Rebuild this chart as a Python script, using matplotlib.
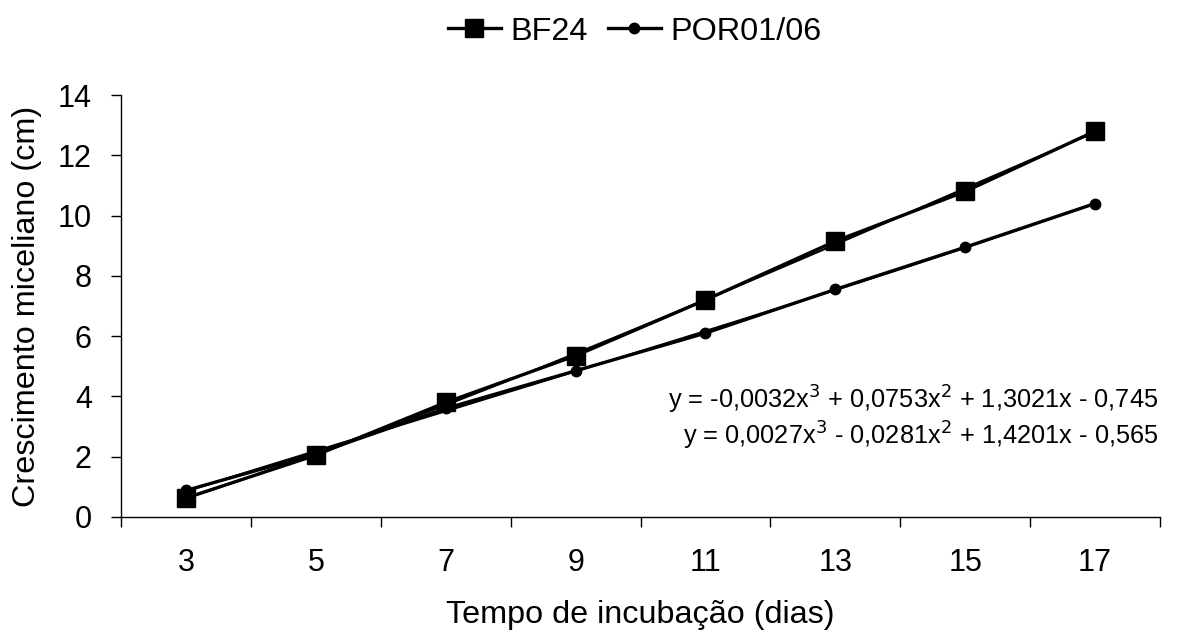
import numpy as np
import matplotlib.pyplot as plt

plt.rcParams['font.family'] = ['Liberation Sans', 'DejaVu Sans']

dias = ['3', '5', '7', '9', '11', '13', '15', '17']
bf24 = [0.63, 2.05, 3.8, 5.35, 7.2, 9.15, 10.8, 12.8]
por0106 = [0.88, 2.1, 3.6, 4.85, 6.1, 7.55, 8.95, 10.4]
eq_bf24 = 'y = -0,0032x$^3$ + 0,0753x$^2$ + 1,3021x - 0,745'
eq_por = 'y = 0,0027x$^3$ - 0,0281x$^2$ + 1,4201x - 0,565'

fig = plt.figure(figsize=(11.82, 6.3), dpi=100)
ax = fig.add_axes([0.1024, 0.1794, 0.879, 0.6698])

x = np.arange(1, len(dias) + 1)
xs = np.linspace(1, len(dias), 200)

# data series
ax.plot(x, bf24, color='black', lw=2.4, marker='s', ms=13, label='BF24')
ax.plot(x, por0106, color='black', lw=2.4, marker='o', ms=7.5, label='POR01/06')

# polynomial trend lines (3rd order, like Excel)
for serie in (bf24, por0106):
    c = np.polyfit(x, serie, 3)
    ax.plot(xs, np.polyval(c, xs), color='black', lw=1.6)

ax.text(0.998, 0.258, eq_bf24, transform=ax.transAxes, ha='right', va='baseline', fontsize=18.3)
ax.text(0.998, 0.171, eq_por, transform=ax.transAxes, ha='right', va='baseline', fontsize=18.3)

ax.set_xlim(0.5, len(dias) + 0.5)
ax.set_ylim(0, 14)
ax.set_yticks(range(0, 15, 2))
ax.set_xticks(x)
ax.set_xticklabels(dias)
ax.set_xticks(np.arange(0.5, len(dias) + 1, 1), minor=True)
ax.tick_params(axis='x', which='major', length=0, pad=22, labelsize=22)
ax.tick_params(axis='x', which='minor', length=7, width=1)
ax.tick_params(axis='y', length=7, width=1, labelsize=22, pad=14)

for s in ('top', 'right'):
    ax.spines[s].set_visible(False)
for s in ('left', 'bottom'):
    ax.spines[s].set_linewidth(1)

ax.set_xlabel('Tempo de incubação (dias)', fontsize=23.3, labelpad=16)
ax.set_ylabel('Crescimento miceliano (cm)', fontsize=23.3, labelpad=11)

fig.legend(loc='upper center', bbox_to_anchor=(0.537, 1.02), ncol=2, frameon=False,
           fontsize=23.3, handlelength=1.65, columnspacing=0.6, handletextpad=0.3)

fig.savefig('out.png', dpi=100, facecolor='white')
